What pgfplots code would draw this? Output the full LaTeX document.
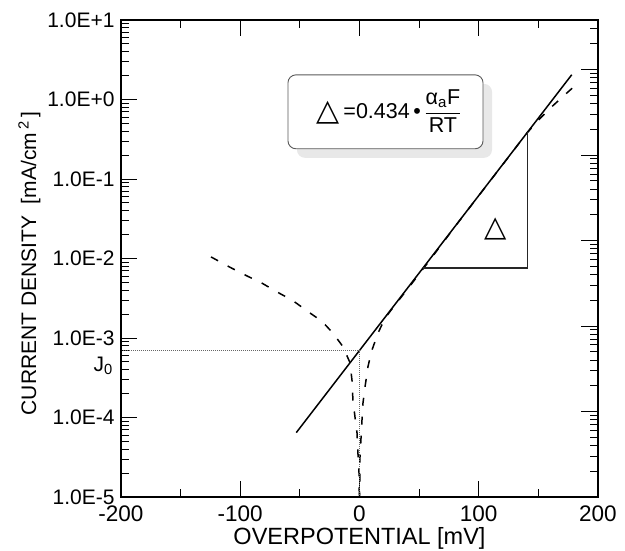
\documentclass[border=0pt]{standalone}
\usepackage{pgfplots}
\pgfplotsset{compat=1.18}
\usepackage{fontspec}
\setmainfont{Liberation Sans}
\newfontfamily\symf{DejaVu Sans}

\begin{document}
\begin{tikzpicture}
\useasboundingbox (-121pt,-53pt) rectangle (504pt,497pt);
\begin{axis}[
  at={(0pt,0pt)}, anchor=south west,
  scale only axis, width=477pt, height=477pt,
  xmin=-200, xmax=200, ymin=1e-5, ymax=10, ymode=log,
  clip mode=individual,
  xtick={-200,-100,0,100,200}, xticklabels={-200,-100,0,100,200},
  minor xtick={-150,-50,50,150},
  ytick={1e-5,1e-4,1e-3,1e-2,1e-1,1,10},
  yticklabels={1.0E-5,1.0E-4,1.0E-3,1.0E-2,1.0E-1,1.0E+0,1.0E+1},
  minor ytick={2e-5,3e-5,4e-5,5e-5,6e-5,7e-5,8e-5,9e-5,
               2e-4,3e-4,4e-4,5e-4,6e-4,7e-4,8e-4,9e-4,
               2e-3,3e-3,4e-3,5e-3,6e-3,7e-3,8e-3,9e-3,
               2e-2,3e-2,4e-2,5e-2,6e-2,7e-2,8e-2,9e-2,
               2e-1,3e-1,4e-1,5e-1,6e-1,7e-1,8e-1,9e-1,
               2,3,4,5,6,7,8,9},
  ytick pos=left,
  tick align=inside,
  major tick length=16pt, minor tick length=8pt,
  every tick/.style={black, line width=1pt},
  axis line style={line width=1.3pt},
  xticklabel style={font=\fontsize{22.5}{24}\selectfont, yshift=-5pt},
  yticklabel style={font=\fontsize{21}{23}\selectfont, xshift=-3pt},
  xlabel={OVERPOTENTIAL [mV]},
  ylabel={CURRENT DENSITY\ \ [mA/cm\,\textsuperscript{2}\,]},
  xlabel style={font=\fontsize{23.5}{25}\selectfont, at={(axis description cs:0.5,-0.1)}, anchor=base},
  ylabel style={font=\fontsize{21}{23}\selectfont, at={(axis description cs:-0.178,0.49)}, anchor=base},
]
% Tafel line
\addplot[black, line width=1.5pt] coordinates {(-53,6.46e-5) (178,2.05)};
% cathodic branch (absolute value)
\addplot[black, line width=1.5pt, dash pattern=on 8pt off 11pt] coordinates {
  (-124.5,1.047e-2) (-108.6,7.76e-3) (-94.3,6.03e-3) (-81.8,4.90e-3)
  (-69.2,3.80e-3) (-55.8,2.95e-3) (-44.0,2.19e-3) (-31.4,1.62e-3)
  (-22.2,1.15e-3) (-13.8,7.76e-4) (-8.0,4.90e-4) (-6.3,2.95e-4)
  (-5.5,1.66e-4) (-3.8,1.02e-4) (-2.1,6.46e-5) (-1.3,3.55e-5)
  (-0.4,2.00e-5) (-0.1,9e-6)};
% anodic branch
\addplot[black, line width=1.5pt, dash pattern=on 8pt off 11pt] coordinates {
  (0.1,9e-6) (0.4,3.16e-5) (1.3,5.62e-5) (2.1,9.33e-5) (2.9,1.51e-4)
  (4.6,2.40e-4) (7.1,4.37e-4) (10.5,7.08e-4) (15.5,1.15e-3) (21.4,1.78e-3)
  (30,2.63e-3) (40,4.07e-3) (60,1.0e-2) (80,2.51e-2) (100,6.17e-2)
  (120,0.151) (140,0.372) (150,0.55) (160,0.78) (172,1.14) (185,1.70)};
% exchange current guides
\addplot[black!60, line width=1pt, dash pattern=on 1pt off 1pt] coordinates {
  (-200,6.92e-4) (0,6.92e-4) (0,1e-5)};
% slope triangle
\addplot[black!85, line width=1.2pt] coordinates {
  (53.3,7.6e-3) (141,7.6e-3) (141,0.39)};
\node at (axis cs:114.5,0.0234) {\symf\fontsize{29}{29}\selectfont △};
% J0 label
\node[anchor=north east, inner sep=0pt, font=\fontsize{21}{23}\selectfont]
  at (axis cs:-200,6.92e-4) [xshift=-8pt, yshift=-6pt] {J\textsubscript{0}};
% formula box
\fill[black!9, rounded corners=8pt] ([xshift=9pt,yshift=-9pt]rel axis cs:0.35,0.73)
  rectangle ([xshift=9pt,yshift=-9pt]rel axis cs:0.759,0.885);
\draw[black!65, line width=0.9pt, fill=white, rounded corners=8pt]
  (rel axis cs:0.35,0.73) rectangle (rel axis cs:0.759,0.885);
\node[font=\fontsize{21.5}{24}\selectfont] at (rel axis cs:0.562,0.809)
  {\raisebox{-2pt}{\symf\fontsize{30}{30}\selectfont △}\,=0.434\,•\,$\displaystyle\frac{\hbox{α\textsubscript{a}F}}{\hbox{RT}}$};
\end{axis}
% right axis with its own (offset) log scale
\begin{axis}[
  at={(0pt,0pt)}, anchor=south west,
  scale only axis, width=477pt, height=477pt,
  xmin=-200, xmax=200, ymin=1e-5, ymax=3.8, ymode=log,
  xtick=\empty,
  ytick={1e-5,1e-4,1e-3,1e-2,1e-1,1},
  yticklabels={},
  minor ytick={2e-5,3e-5,4e-5,5e-5,6e-5,7e-5,8e-5,9e-5,
               2e-4,3e-4,4e-4,5e-4,6e-4,7e-4,8e-4,9e-4,
               2e-3,3e-3,4e-3,5e-3,6e-3,7e-3,8e-3,9e-3,
               2e-2,3e-2,4e-2,5e-2,6e-2,7e-2,8e-2,9e-2,
               2e-1,3e-1,4e-1,5e-1,6e-1,7e-1,8e-1,9e-1,
               2,3},
  ytick pos=right,
  tick align=inside,
  major tick length=17pt, minor tick length=8pt,
  every tick/.style={black, line width=1pt},
  axis line style={line width=1.3pt},
]
\end{axis}
\end{tikzpicture}
\end{document}
